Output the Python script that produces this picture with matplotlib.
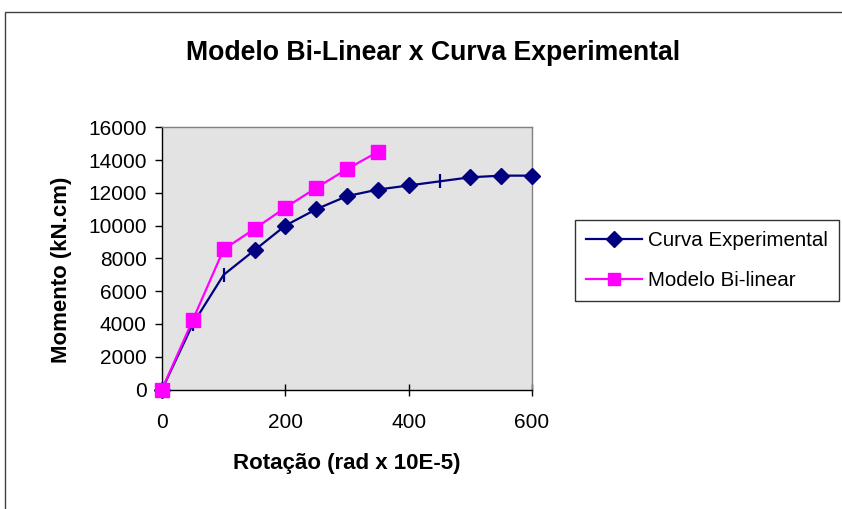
import matplotlib
matplotlib.use("Agg")
import matplotlib.pyplot as plt
from matplotlib.patches import Rectangle
from matplotlib.lines import Line2D

plt.rcParams['font.family'] = ['Liberation Sans', 'DejaVu Sans']

# Data
rot_exp = [0, 50, 100, 150, 200, 250, 300, 350, 400, 450, 500, 550, 600]
mom_exp = [0, 4000, 7000, 8500, 10000, 11000, 11800, 12200, 12450, 12700, 12950, 13050, 13050]
rot_bil = [0, 50, 100, 150, 200, 250, 300, 350]
mom_bil = [0, 4250, 8550, 9800, 11100, 12300, 13450, 14500]
diamond_idx = [0, 3, 4, 5, 6, 7, 8, 10, 11, 12]
tick_idx = [1, 2, 9]
xticks = [0, 200, 400, 600]
yticks = list(range(0, 16001, 2000))

title = "Modelo Bi-Linear x Curva Experimental"
xlabel = "Rotação (rad x 10E-5)"
ylabel = "Momento (kN.cm)"
labels = ["Curva Experimental", "Modelo Bi-linear"]

navy = "#000080"
magenta = "#FF00FF"

W, H = 842, 509
fig = plt.figure(figsize=(W / 100, H / 100), dpi=100)

# outer chart border (cropped on right/bottom)
fig.patches.append(Rectangle((5 / W, -0.1), 2, 1.1 - 11.5 / H, transform=fig.transFigure,
                             fill=False, edgecolor="#404040", linewidth=1.0))

ax = fig.add_axes([162 / W, 1 - 389.5 / H, (532 - 162) / W, (389.5 - 127.3) / H])
ax.set_facecolor("#E3E3E3")

ax.plot(rot_exp, mom_exp, color=navy, lw=1.6, marker='D', markersize=8.5,
        markevery=diamond_idx, zorder=3, clip_on=False)
ax.plot(rot_exp, mom_exp, color=navy, lw=0, marker='|', markersize=10,
        markeredgewidth=1.6, markevery=tick_idx, zorder=3, clip_on=False)
ax.plot(rot_bil, mom_bil, color=magenta, lw=1.6, marker='s', markersize=9.5,
        zorder=4, clip_on=False)

ax.set_xlim(0, 600)
ax.set_ylim(0, 16000)
ax.set_xticks(xticks)
ax.set_yticks(yticks)
ax.tick_params(axis='x', direction='inout', length=8, width=1, labelsize=15, pad=13)
ax.tick_params(axis='y', direction='out', length=5, width=1, labelsize=15, pad=6)

for s in ['top', 'right']:
    ax.spines[s].set_color('#808080')
    ax.spines[s].set_linewidth(1.0)
for s in ['left', 'bottom']:
    ax.spines[s].set_color('black')
    ax.spines[s].set_linewidth(1.0)

ax.set_xlabel(xlabel, fontsize=16, fontweight='bold', va='center')
ax.xaxis.set_label_coords((346.5 - 162) / 370, (389.5 - 464) / 262.2)
ax.set_ylabel(ylabel, fontsize=16, fontweight='bold', va='center')
ax.yaxis.set_label_coords((61 - 162) / 370, (389.5 - 270) / 262.2)

fig.text(433 / W, 1 - 53 / H, title, fontsize=19.2, fontweight='bold',
         ha='center', va='center')

handles = [Line2D([], [], color=navy, lw=1.6, marker='D', markersize=8),
           Line2D([], [], color=magenta, lw=1.6, marker='s', markersize=9)]
leg = fig.legend(handles, labels, loc='upper left', bbox_to_anchor=(575 / W, 1 - 220 / H),
                 fontsize=14.8, frameon=True, fancybox=False, shadow=False,
                 borderpad=0.55, handlelength=2.7, handletextpad=0.3, labelspacing=1.0,
                 borderaxespad=0)
leg.get_frame().set_edgecolor('black')
leg.get_frame().set_linewidth(1.0)

fig.savefig("out.png", dpi=100)
